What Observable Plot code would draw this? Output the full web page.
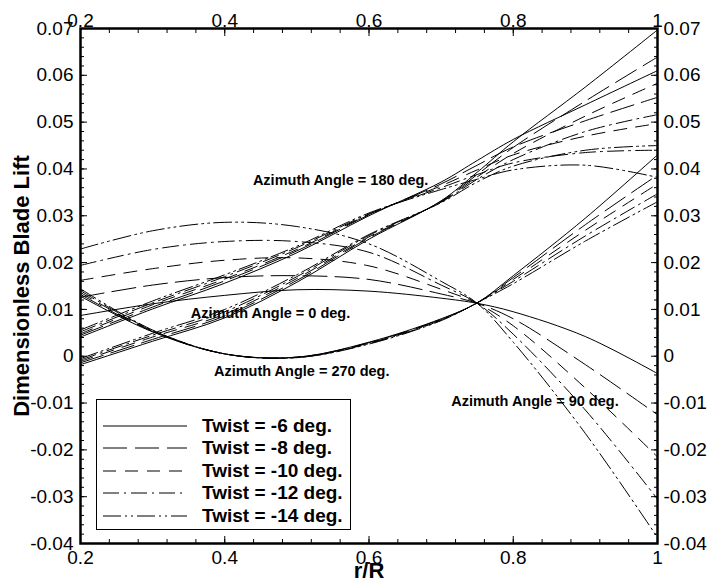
<!DOCTYPE html>
<html><head><meta charset="utf-8">
<script src="https://cdn.jsdelivr.net/npm/d3@7"></script>
<script src="https://cdn.jsdelivr.net/npm/@observablehq/plot@0.6"></script>
<style>
body{margin:0;background:#fff;}
#wrap{position:relative;width:707px;height:588px;font-family:"Liberation Sans",Arial,sans-serif;}
#legend{position:absolute;left:96px;top:399px;width:255px;height:131px;border:1px solid #000;background:#fff;box-sizing:border-box;}
#legend .row{position:absolute;left:0;height:22px;}
#legend svg{position:absolute;left:6px;top:0;}
#legend span{position:absolute;left:105px;top:0;line-height:22px;font-weight:bold;font-size:19px;white-space:nowrap;}
</style></head><body><div id="wrap"></div>
<script>
// r/R sample positions
const radius = [0.2, 0.3, 0.4, 0.5, 0.6, 0.7, 0.75, 0.8, 0.9, 1.0];
const twistAngles = [-6, -8, -10, -12, -14];
const azimuthAngles = [0, 90, 180, 270];

// Dimensionless blade lift, one row per twist (-6, -8, -10, -12, -14)
const liftAz0 = [
  [-0.0018, 0.0032, 0.0082, 0.0158, 0.0250, 0.0332, 0.0393, 0.0458, 0.0575, 0.0697],
  [-0.0014, 0.0036, 0.0086, 0.0162, 0.0253, 0.0331, 0.0388, 0.0446, 0.0545, 0.0639],
  [-0.0011, 0.0041, 0.0090, 0.0166, 0.0255, 0.0330, 0.0383, 0.0433, 0.0513, 0.0583],
  [-0.0008, 0.0045, 0.0095, 0.0170, 0.0258, 0.0329, 0.0378, 0.0420, 0.0480, 0.0516],
  [-0.0005, 0.0049, 0.0100, 0.0174, 0.0260, 0.0328, 0.0372, 0.0406, 0.0440, 0.0450]
];
const liftAz90 = [
  [0.0087, 0.0112, 0.0130, 0.0142, 0.0139, 0.0124, 0.0113, 0.0095, 0.0042, -0.0037],
  [0.0126, 0.0152, 0.0168, 0.0172, 0.0164, 0.0133, 0.0113, 0.0080, -0.0018, -0.0125],
  [0.0162, 0.0187, 0.0205, 0.0210, 0.0193, 0.0143, 0.0113, 0.0065, -0.0068, -0.0215],
  [0.0194, 0.0228, 0.0245, 0.0245, 0.0222, 0.0152, 0.0113, 0.0047, -0.0115, -0.0305],
  [0.0229, 0.0268, 0.0286, 0.0277, 0.0240, 0.0160, 0.0113, 0.0030, -0.0165, -0.0387]
];
const liftAz180 = [
  [0.0041, 0.0101, 0.0156, 0.0221, 0.0300, 0.0372, 0.0418, 0.0463, 0.0537, 0.0610],
  [0.0045, 0.0105, 0.0161, 0.0225, 0.0302, 0.0368, 0.0408, 0.0447, 0.0503, 0.0553],
  [0.0048, 0.0110, 0.0165, 0.0228, 0.0303, 0.0364, 0.0398, 0.0430, 0.0470, 0.0497],
  [0.0052, 0.0114, 0.0170, 0.0232, 0.0304, 0.0360, 0.0388, 0.0413, 0.0435, 0.0440],
  [0.0056, 0.0118, 0.0174, 0.0235, 0.0306, 0.0356, 0.0378, 0.0398, 0.0408, 0.0382]
];
const liftAz270 = [
  [0.0128, 0.0052, 0.0005, -0.0002, 0.0030, 0.0080, 0.0114, 0.0172, 0.0295, 0.0430],
  [0.0132, 0.0053, 0.0005, -0.0002, 0.0029, 0.0079, 0.0114, 0.0168, 0.0281, 0.0387],
  [0.0136, 0.0054, 0.0005, -0.0002, 0.0028, 0.0078, 0.0114, 0.0164, 0.0269, 0.0368],
  [0.0140, 0.0055, 0.0005, -0.0003, 0.0027, 0.0077, 0.0114, 0.0160, 0.0257, 0.0347],
  [0.0144, 0.0056, 0.0005, -0.0003, 0.0026, 0.0076, 0.0114, 0.0155, 0.0246, 0.0330]
];

const xTickValues = [0.2, 0.4, 0.6, 0.8, 1];
const yTickValues = [0.07, 0.06, 0.05, 0.04, 0.03, 0.02, 0.01, 0, -0.01, -0.02, -0.03, -0.04];

const annotations = [
  {r: 0.439, lift: 0.0375, label: "Azimuth Angle = 180 deg."},
  {r: 0.353, lift: 0.0091, label: "Azimuth Angle = 0 deg."},
  {r: 0.385, lift: -0.0033, label: "Azimuth Angle = 270 deg."},
  {r: 0.714, lift: -0.0097, label: "Azimuth Angle = 90 deg."}
];

const legendLabels = ["Twist = -6 deg.", "Twist = -8 deg.", "Twist = -10 deg.", "Twist = -12 deg.", "Twist = -14 deg."];
const dashes = [null, "24,8", "13,9", "16,5,2,5", "18,4,2,4,2,4"];

const liftByAz = [liftAz0, liftAz90, liftAz180, liftAz270];
const rows = [];
azimuthAngles.forEach((az, a) => {
  twistAngles.forEach((tw, t) => {
    radius.forEach((r, i) => rows.push({az, twist: tw, r, lift: liftByAz[a][t][i]}));
  });
});

const fmt = d => String(+d.toFixed(2));
const xMinor = d3.range(0, 21).map(i => 0.2 + i * 0.04);
const yMinor = d3.range(0, 56).map(i => -0.04 + i * 0.002);

const marks = [];
twistAngles.forEach((tw, t) => {
  const opts = {x: "r", y: "lift", z: "az", curve: "catmull-rom", stroke: "black", strokeWidth: 1, clip: true};
  if (dashes[t]) opts.strokeDasharray = dashes[t];
  marks.push(Plot.line(rows.filter(d => d.twist === tw), opts));
});

const font = {fontSize: 19};
const chart = Plot.plot({
  width: 707, height: 588,
  marginLeft: 80, marginRight: 50, marginTop: 28, marginBottom: 45,
  style: {fontFamily: "'Liberation Sans', Arial, sans-serif", fontSize: "19px", color: "black", background: "white"},
  x: {domain: [0.2, 1]},
  y: {domain: [-0.04, 0.07]},
  marks: [
    ...marks,
    Plot.text(annotations, {x: "r", y: "lift", text: "label", textAnchor: "start", fontWeight: "bold", fontSize: 14.5, fill: "black"}),
    // major ticks pointing inward
    Plot.axisX(xTickValues, {anchor: "bottom", tickSize: 7, dy: -7, fill: "none", label: null, strokeWidth: 1}),
    Plot.axisX(xTickValues, {anchor: "top", tickSize: 7, dy: 7, fill: "none", label: null, strokeWidth: 1}),
    Plot.axisY(yTickValues, {anchor: "left", tickSize: 7, dx: 7, fill: "none", label: null, strokeWidth: 1}),
    Plot.axisY(yTickValues, {anchor: "right", tickSize: 7, dx: -7, fill: "none", label: null, strokeWidth: 1}),
    // minor ticks
    Plot.axisX(xMinor, {anchor: "bottom", tickSize: 4, dy: -4, fill: "none", label: null}),
    Plot.axisX(xMinor, {anchor: "top", tickSize: 4, dy: 4, fill: "none", label: null}),
    Plot.axisY(yMinor, {anchor: "left", tickSize: 4, dx: 4, fill: "none", label: null}),
    Plot.axisY(yMinor, {anchor: "right", tickSize: 4, dx: -4, fill: "none", label: null}),
    // tick labels
    Plot.axisX(xTickValues, {anchor: "bottom", tickSize: 0, tickPadding: 7, tickFormat: fmt, label: null, ...font}),
    Plot.axisX(xTickValues, {anchor: "top", tickSize: 0, tickPadding: 2, tickFormat: fmt, label: null, ...font}),
    Plot.axisY(yTickValues, {anchor: "left", tickSize: 0, tickPadding: 7, tickFormat: fmt, label: null, ...font}),
    Plot.axisY(yTickValues, {anchor: "right", tickSize: 0, tickPadding: 6, tickFormat: fmt, label: null, ...font}),
    Plot.frame({stroke: "black", strokeWidth: 2.5}),
    Plot.text(["Dimensionless Blade Lift"], {frameAnchor: "left", textAnchor: "middle", rotate: -90, dx: -59, fontWeight: "bold", fontSize: 22, fill: "black"}),
    Plot.text(["r/R"], {frameAnchor: "bottom", textAnchor: "middle", dy: 34, fontWeight: "bold", fontSize: 22, fill: "black"})
  ]
});

const wrap = document.getElementById("wrap");
wrap.appendChild(chart);

// legend
const legend = document.createElement("div");
legend.id = "legend";
const rowTops = [15, 37, 60, 82, 105];
legendLabels.forEach((lab, t) => {
  const row = document.createElement("div");
  row.className = "row";
  row.style.top = rowTops[t] + "px";
  row.style.width = "253px";
  const ns = "http://www.w3.org/2000/svg";
  const svg = document.createElementNS(ns, "svg");
  svg.setAttribute("width", "86");
  svg.setAttribute("height", "22");
  const ln = document.createElementNS(ns, "line");
  ln.setAttribute("x1", "0"); ln.setAttribute("x2", "84");
  ln.setAttribute("y1", "11"); ln.setAttribute("y2", "11");
  ln.setAttribute("stroke", "black"); ln.setAttribute("stroke-width", "1");
  if (dashes[t]) ln.setAttribute("stroke-dasharray", dashes[t]);
  svg.appendChild(ln);
  row.appendChild(svg);
  const sp = document.createElement("span");
  sp.textContent = lab;
  row.appendChild(sp);
  legend.appendChild(row);
});
wrap.appendChild(legend);
</script></body></html>
